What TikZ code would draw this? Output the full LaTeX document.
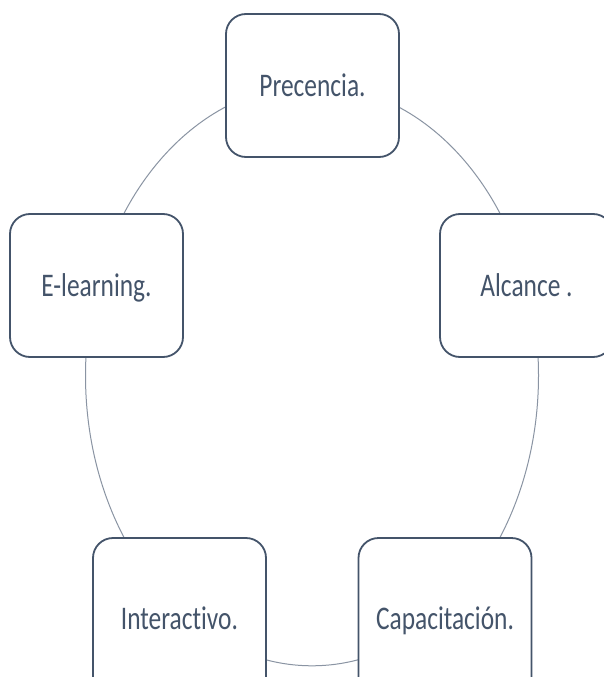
\documentclass[tikz,border=0pt]{standalone}
\usepackage{fontspec}
\setmainfont{Carlito}[FakeStretch=0.77,Ligatures=NoCommon]
\definecolor{boxline}{HTML}{44546A}
\definecolor{ringline}{HTML}{8A94A3}
\begin{document}
\begin{tikzpicture}[x=1pt,y=-1pt,
  itembox/.style={draw=boxline, line width=1.8pt, fill=white, rounded corners=20pt,
    minimum width=173pt, minimum height=143pt, inner sep=0pt,
    text=boxline, font=\fontsize{33}{36}\selectfont, text height=21pt, text depth=0pt},
  tallbox/.style={itembox, minimum height=162pt},
  ring/.style={draw=ringline, line width=1pt}]
\clip (0,0) rectangle (604,677);
\fill[white] (0,0) rectangle (604,677);
\draw[ring] (312,375.4) ellipse [x radius=226.5, y radius=290.4];
\node[itembox] (pre) at (312.5,85.5) {Precencia.};
\node[itembox] (alc) at (526.5,285.5) {Alcance .};
\node[itembox] (elr) at (96.5,285.5) {E-learning.};
\node[tallbox] (int) at (179.5,619) {Interactivo.};
\node[tallbox] (cap) at (445,619) {Capacitación.};
\end{tikzpicture}
\end{document}
